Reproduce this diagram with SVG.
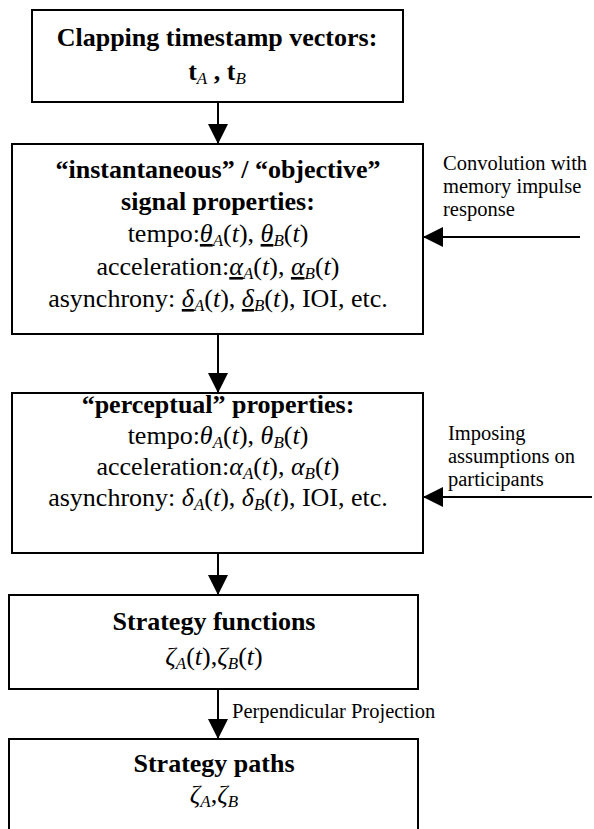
<svg xmlns="http://www.w3.org/2000/svg" width="594" height="829" viewBox="0 0 594 829">
<defs>
<marker id="ah" viewBox="0 0 20 20" refX="20" refY="10" markerWidth="20" markerHeight="20" markerUnits="userSpaceOnUse" orient="auto"><path d="M0,0 L20,10 L0,20 z" fill="#000"/></marker>
</defs>
<style>
.box{fill:#fff;stroke:#000;stroke-width:2}
.t{font-family:"Liberation Serif","Times New Roman",serif;font-size:26px;fill:#000;text-anchor:middle}
.b{font-weight:bold}
.i{font-style:italic}
.s{font-style:italic;font-size:17px;font-weight:normal}
.u{text-decoration:underline}
.lbl{font-family:"Liberation Serif","Times New Roman",serif;font-size:20.5px;fill:#000}
.c{stroke:#000;stroke-width:2;fill:none;marker-end:url(#ah)}
</style>
<rect width="594" height="829" fill="#fff"/>
<g id="connectors">
<line class="c" x1="218" y1="102" x2="218" y2="144"/>
<line class="c" x1="218" y1="334" x2="218" y2="393"/>
<line class="c" x1="218" y1="553" x2="218" y2="595"/>
<line class="c" x1="218" y1="689" x2="218" y2="739"/>
<line class="c" x1="580" y1="237" x2="423" y2="237"/>
<line class="c" x1="592" y1="497" x2="423" y2="497"/>
<text class="lbl" x="443" y="170">Convolution with</text>
<text class="lbl" x="443" y="193">memory impulse</text>
<text class="lbl" x="443" y="216">response</text>
<text class="lbl" x="448" y="440">Imposing</text>
<text class="lbl" x="448" y="463">assumptions on</text>
<text class="lbl" x="448" y="486">participants</text>
<text class="lbl" x="232" y="718">Perpendicular Projection</text>
</g>
<g id="node-timestamps">
<rect class="box" x="32" y="10" width="371" height="92"/>
<text class="t b" x="217" y="46">Clapping timestamp vectors:</text>
<text class="t b" x="217" y="80">t<tspan class="s" dy="4">A</tspan><tspan dy="-4"> , t</tspan><tspan class="s" dy="4">B</tspan></text>
</g>
<g id="node-objective">
<rect class="box" x="12" y="144" width="411" height="190"/>
<text class="t b" x="218" y="178">“instantaneous” / “objective”</text>
<text class="t b" x="218" y="210">signal properties:</text>
<text class="t" x="218" y="242">tempo:<tspan class="i u">θ</tspan><tspan class="s" dy="4">A</tspan><tspan dy="-4">(</tspan><tspan class="i">t</tspan>), <tspan class="i u">θ</tspan><tspan class="s" dy="4">B</tspan><tspan dy="-4">(</tspan><tspan class="i">t</tspan>)</text>
<text class="t" x="218" y="275">acceleration:<tspan class="i u">α</tspan><tspan class="s" dy="4">A</tspan><tspan dy="-4">(</tspan><tspan class="i">t</tspan>), <tspan class="i u">α</tspan><tspan class="s" dy="4">B</tspan><tspan dy="-4">(</tspan><tspan class="i">t</tspan>)</text>
<text class="t" x="218" y="307">asynchrony: <tspan class="i u">δ</tspan><tspan class="s" dy="4">A</tspan><tspan dy="-4">(</tspan><tspan class="i">t</tspan>), <tspan class="i u">δ</tspan><tspan class="s" dy="4">B</tspan><tspan dy="-4">(</tspan><tspan class="i">t</tspan>), IOI, etc.</text>
</g>
<g id="node-perceptual">
<rect class="box" x="12" y="393" width="411" height="160"/>
<text class="t b" x="218" y="413">“perceptual” properties:</text>
<text class="t" x="218" y="444">tempo:<tspan class="i">θ</tspan><tspan class="s" dy="4">A</tspan><tspan dy="-4">(</tspan><tspan class="i">t</tspan>), <tspan class="i">θ</tspan><tspan class="s" dy="4">B</tspan><tspan dy="-4">(</tspan><tspan class="i">t</tspan>)</text>
<text class="t" x="218" y="475">acceleration:<tspan class="i">α</tspan><tspan class="s" dy="4">A</tspan><tspan dy="-4">(</tspan><tspan class="i">t</tspan>), <tspan class="i">α</tspan><tspan class="s" dy="4">B</tspan><tspan dy="-4">(</tspan><tspan class="i">t</tspan>)</text>
<text class="t" x="218" y="506">asynchrony: <tspan class="i">δ</tspan><tspan class="s" dy="4">A</tspan><tspan dy="-4">(</tspan><tspan class="i">t</tspan>), <tspan class="i">δ</tspan><tspan class="s" dy="4">B</tspan><tspan dy="-4">(</tspan><tspan class="i">t</tspan>), IOI, etc.</text>
</g>
<g id="node-strategy-functions">
<rect class="box" x="9" y="595" width="409" height="94"/>
<text class="t b" x="214" y="630">Strategy functions</text>
<text class="t" x="214" y="665"><tspan class="i">ζ</tspan><tspan class="s" dy="4">A</tspan><tspan dy="-4">(</tspan><tspan class="i">t</tspan>),<tspan class="i">ζ</tspan><tspan class="s" dy="4">B</tspan><tspan dy="-4">(</tspan><tspan class="i">t</tspan>)</text>
</g>
<g id="node-strategy-paths">
<rect class="box" x="9" y="739" width="409" height="100"/>
<text class="t b" x="214" y="772">Strategy paths</text>
<text class="t" x="214" y="803"><tspan class="i">ζ</tspan><tspan class="s" dy="4">A</tspan><tspan dy="-4">,</tspan><tspan class="i">ζ</tspan><tspan class="s" dy="4">B</tspan></text>
</g>
</svg>
